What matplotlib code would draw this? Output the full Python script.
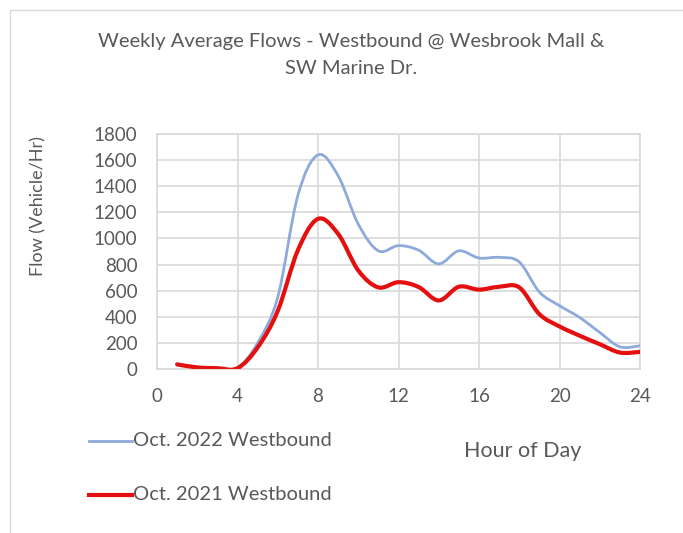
import numpy as np
import matplotlib
matplotlib.use("Agg")
import matplotlib.pyplot as plt
from matplotlib.path import Path
from matplotlib.patches import PathPatch, Rectangle
from matplotlib.lines import Line2D

plt.rcParams['font.family'] = ['Lato', 'DejaVu Sans']

# ---------------- data ----------------
hours = [1, 2, 3, 4, 5, 6, 7, 8, 9, 10, 11, 12,
         13, 14, 15, 16, 17, 18, 19, 20, 21, 22, 23, 24]
flow_2022 = [40, 15, 8, 8, 200, 550, 1330, 1640, 1480, 1110, 905, 945,
             910, 805, 905, 850, 855, 820, 590, 485, 395, 280, 170, 178]
flow_2021 = [35, 12, 6, 6, 165, 445, 910, 1150, 1035, 755, 625, 665,
             628, 525, 630, 608, 630, 625, 420, 326, 255, 190, 126, 131]
labels = ["Oct. 2022 Westbound", "Oct. 2021 Westbound"]
colors = ["#8eaadb", "#e41010"]
widths = [2.0, 3.0]

x_ticks = [0, 4, 8, 12, 16, 20, 24]
y_ticks = [0, 200, 400, 600, 800, 1000, 1200, 1400, 1600, 1800]


def smooth_path(x, y):
    # Excel-style smoothed line: cubic bezier through each point
    pts = np.column_stack([x, y]).astype(float)
    verts = [pts[0]]
    codes = [Path.MOVETO]
    n = len(pts)
    for i in range(n - 1):
        p0 = pts[i - 1] if i > 0 else pts[i]
        p1 = pts[i]
        p2 = pts[i + 1]
        p3 = pts[i + 2] if i + 2 < n else pts[i + 1]
        c1 = p1 + (p2 - p0) / 6.0
        c2 = p2 - (p3 - p1) / 6.0
        verts += [c1, c2, p2]
        codes += [Path.CURVE4] * 3
    return Path(verts, codes)


W, H = 683, 533
fig = plt.figure(figsize=(W / 100, H / 100), dpi=100)
# outer chart frame (right/bottom edges fall off the picture)
fig.patches.append(Rectangle((10 / W, -0.05), 1.0, 1 - 10 / H + 0.05,
                             transform=fig.transFigure, fill=False,
                             edgecolor="#d9d9d9", lw=1))

ax = fig.add_axes([157 / W, 1 - 369 / H, (640 - 157) / W, (369 - 134) / H])

for yv, c, lw in zip([flow_2022, flow_2021], colors, widths):
    ax.add_patch(PathPatch(smooth_path(hours, yv), fill=False, edgecolor=c,
                           lw=lw, capstyle="round", joinstyle="round", zorder=3))

ax.set_xlim(0, 24)
ax.set_ylim(0, 1800)
ax.set_xticks(x_ticks)
ax.set_yticks(y_ticks)
ax.grid(True, color="#d9d9d9", lw=1.2)
ax.set_axisbelow(True)
for s in ax.spines.values():
    s.set_color("#d9d9d9")
    s.set_linewidth(1.2)
ax.tick_params(length=0, labelsize=13.5, labelcolor="#595959", pad=14)

txt = "#595959"
fig.text(351 / W, 1 - 41 / H, "Weekly Average Flows - Westbound @ Wesbrook Mall &",
         ha="center", va="center", fontsize=14.5, color=txt)
fig.text(351 / W, 1 - 69 / H, "SW Marine Dr.",
         ha="center", va="center", fontsize=14.5, color=txt)
fig.text(38 / W, 1 - 206 / H, "Flow (Vehicle/Hr)", rotation=90,
         ha="center", va="center", fontsize=13, color=txt)
fig.text(523 / W, 1 - 451 / H, "Hour of Day",
         ha="center", va="center", fontsize=15.5, color=txt)

# legend entries
for i, (lab, c, lw) in enumerate(zip(labels, colors, widths)):
    yy = 1 - (441 + 54 * i) / H
    fig.add_artist(Line2D([89 / W, 132 / W], [yy, yy], color=c, lw=lw,
                          transform=fig.transFigure))
    fig.text(133 / W, yy, lab, ha="left", va="center", fontsize=14.5, color=txt)

fig.savefig("out.png", dpi=100)
